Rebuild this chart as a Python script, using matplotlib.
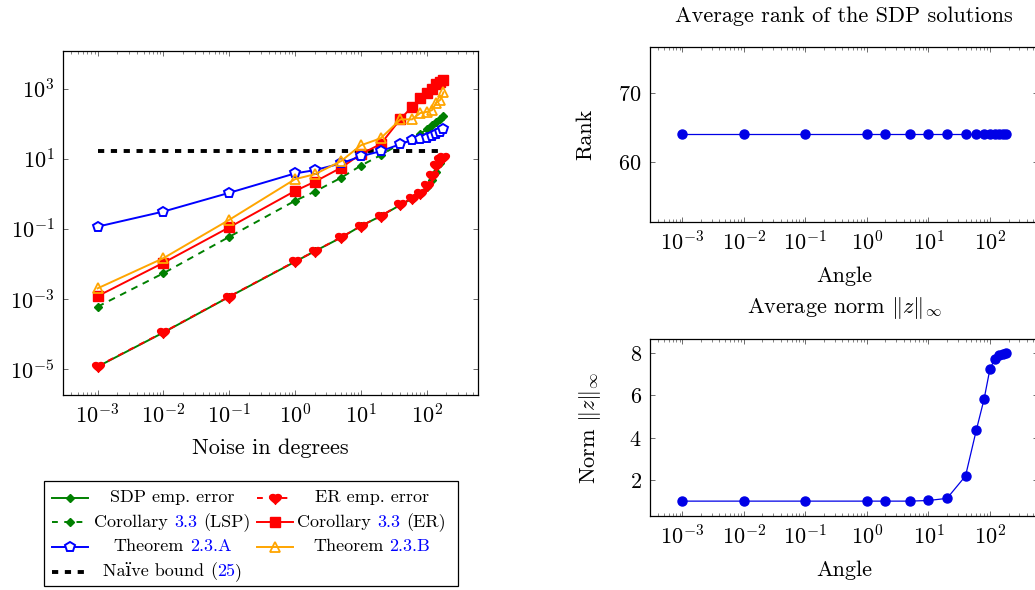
import numpy as np
import matplotlib
matplotlib.use('Agg')
import matplotlib.pyplot as plt
from matplotlib.path import Path
from matplotlib.lines import Line2D
from matplotlib.patches import Rectangle
from matplotlib.offsetbox import TextArea, HPacker, AnnotationBbox
from matplotlib.ticker import (LogLocator, LogFormatterMathtext, NullFormatter,
                               NullLocator, FixedLocator)

# noise levels (degrees) shared by all panels
noise = [1e-3, 1e-2, 1e-1, 1, 2, 5, 10, 20, 40, 60, 80, 100, 120, 140, 160, 180]
decades = [1e-3, 1e-2, 1e-1, 1e0, 1e1, 1e2]

# left panel: errors and bounds
sdp_emp = [1.17e-5, 1.1e-4, 1.15e-3, 0.0115, 0.023, 0.056, 0.12, 0.23, 0.48, 0.72,
           1.0, 1.55, 2.4, 4.2, 7.5, 10.5]
er_emp = [1.2e-5, 1.12e-4, 1.17e-3, 0.0117, 0.023, 0.057, 0.12, 0.23, 0.5, 0.75,
          1.04, 1.8, 3.4, 6.6, 9.6, 11.2]
cor_lsp = [6e-4, 5.4e-3, 0.059, 0.63, 1.15, 2.85, 6.3, 12.6, 27, 38, 52, 68, 91,
           113, 134, 163]
cor_er = [1.2e-3, 0.0107, 0.11, 1.2, 2.2, 5.5, 13.5, 26, 135, 300, 520, 750, 1000,
          1330, 1550, 1800]
thm_a = [0.115, 0.31, 1.06, 3.8, 4.7, 7.3, 11.7, 16.3, 26, 34, 36, 40, 43, 49, 56, 71]
thm_b = [2e-3, 0.0145, 0.18, 2.6, 3.6, 8.5, 24, 38, 132, 132, 200, 215, 240, 390,
         470, 780]
naive = [16.4, 16.4]
naive_x = [1e-3, 180]

# right panels
rank = [64] * 16
norm_inf = [1.0, 1.0, 1.0, 1.0, 1.0, 1.0, 1.03, 1.13, 2.19, 4.37, 5.82, 7.27, 7.72,
            7.92, 7.97, 8.0]

GREEN = '#008000'
RED = '#ff0000'
BLUE = '#0000ff'
ORANGE = '#ffa500'
LINK = '#0000ff'
DOTBLUE = '#0000e6'

plt.rcParams['font.family'] = ['cmr10', 'DejaVu Serif']
plt.rcParams['mathtext.fontset'] = 'cm'
plt.rcParams['axes.unicode_minus'] = False
plt.rcParams['axes.formatter.use_mathtext'] = True
plt.rcParams['font.size'] = 16

# rounded heart-like marker used for "ER emp. error"
_t = np.linspace(0, 2 * np.pi, 60)
_hx = 16 * np.sin(_t) ** 3
_hy = 13 * np.cos(_t) - 4 * np.cos(2 * _t) - 1.5 * np.cos(3 * _t) - 0.5 * np.cos(4 * _t)
HEART = Path(np.column_stack([_hx, _hy]) / 17.0)

W, H = 1035, 590
fig = plt.figure(figsize=(W / 100, H / 100), dpi=100)


def box(x0, y0, x1, y1):
    # pixel box (top-left origin) -> figure fraction rect
    return [x0 / W, (H - y1) / H, (x1 - x0) / W, (y1 - y0) / H]


def style_log_x(ax):
    ax.set_xscale('log')
    ax.set_xlim(10 ** -3.5255, 10 ** 2.78)
    ax.xaxis.set_major_locator(FixedLocator(decades))
    ax.xaxis.set_major_formatter(LogFormatterMathtext())
    ax.xaxis.set_minor_locator(LogLocator(base=10, subs=np.arange(2, 10), numticks=20))
    ax.xaxis.set_minor_formatter(NullFormatter())
    ax.tick_params(which='both', direction='in', top=True, right=True,
                   color='#555555', labelsize=16, pad=6)
    ax.tick_params(which='major', length=3.6, width=0.6)
    ax.tick_params(which='minor', length=2.2, width=0.5)
    for s in ax.spines.values():
        s.set_linewidth(0.9)


# ---------------- left panel ----------------
ax = fig.add_axes(box(63, 51, 478, 395))
style_log_x(ax)
ax.set_yscale('log')
ax.set_ylim(10 ** -5.74, 10 ** 4.07)
ax.yaxis.set_major_locator(FixedLocator([1e-5, 1e-3, 1e-1, 1e1, 1e3]))
ax.yaxis.set_major_formatter(LogFormatterMathtext())
ax.yaxis.set_minor_locator(NullLocator())

ax.plot(naive_x, naive, color='black', lw=2.8, dashes=(1.6, 1.7), zorder=1)
ax.plot(noise, sdp_emp, color=GREEN, lw=1.4, marker='D', ms=4.5, zorder=2)
ax.plot(noise, er_emp, color=RED, lw=1.4, dashes=(3, 3), marker=HEART, ms=8.5, zorder=3)
ax.plot(noise, cor_lsp, color=GREEN, lw=1.4, dashes=(3.5, 3), marker='D', ms=4.5, zorder=2)
ax.plot(noise, cor_er, color=RED, lw=1.4, marker='s', ms=7, zorder=3)
ax.plot(noise, thm_a, color=BLUE, lw=1.4, marker='p', ms=7.5, mfc='white', mew=1.4, zorder=4)
ax.plot(noise, thm_b, color=ORANGE, lw=1.4, marker='^', ms=7.5, mfc='none', mew=1.3, zorder=5)
ax.set_xlabel('Noise in degrees', fontsize=16, labelpad=8)

# ---------------- right panels ----------------
ax_r = fig.add_axes(box(650, 46.7, 1038, 221.7))
style_log_x(ax_r)
ax_r.set_ylim(51.3, 76.7)
ax_r.yaxis.set_major_locator(FixedLocator([60, 70]))
ax_r.plot(noise, rank, color=DOTBLUE, lw=0.9, marker='o', ms=6.5)
ax_r.set_title('Average rank of the SDP solutions', fontsize=16, pad=18)
ax_r.set_xlabel('Angle', fontsize=16, labelpad=9)
ax_r.set_ylabel('Rank', fontsize=16)
ax_r.yaxis.set_label_coords(-0.142, 0.5)

ax_n = fig.add_axes(box(650, 339.3, 1038, 515.7))
style_log_x(ax_n)
ax_n.set_ylim(0.31, 8.66)
ax_n.yaxis.set_major_locator(FixedLocator([2, 4, 6, 8]))
ax_n.plot(noise, norm_inf, color=DOTBLUE, lw=0.9, marker='o', ms=6.5)
ax_n.set_title(r'Average norm $\|z\|_\infty$', fontsize=16, pad=19)
ax_n.set_xlabel('Angle', fontsize=16, labelpad=9)
ax_n.set_ylabel(r'Norm $\|z\|_\infty$', fontsize=16)
ax_n.yaxis.set_label_coords(-0.121, 0.5)

# ---------------- legend (built by hand for the blue references) ----------------
fig.add_artist(Rectangle((44 / W, (H - 586) / H), (458 - 44) / W, (586 - 481) / H,
                         transform=fig.transFigure, fill=False, lw=0.9, color='black'))

LFS = 13
SP = 0.333 * LFS


def txt(s, c='black'):
    return TextArea(s, textprops=dict(color=c, fontsize=LFS))


def put(packer, cx, cy):
    ab = AnnotationBbox(packer, (cx, H - cy), xycoords='figure pixels',
                        frameon=False, box_alignment=(0.5, 0.5), pad=0)
    fig.add_artist(ab)


def handle(x0, cy, **kw):
    x1 = x0 + 36.6
    xs = [x0 / W, (x0 + x1) / 2 / W, x1 / W]
    ys = [(H - cy) / H] * 3
    fig.add_artist(Line2D(xs, ys, transform=fig.transFigure, markevery=[1], **kw))


rows = [497.7, 522.3, 546.7, 571.7]
c1, c2 = 51.7, 256.7
t1, t2 = 172.5, 371.7

handle(c1, rows[0], color=GREEN, lw=1.4, marker='D', ms=4.5)
put(txt('SDP emp. error'), t1, rows[0])
handle(c2, rows[0], color=RED, lw=1.4, dashes=(3, 3.3), marker=HEART, ms=8.5)
put(txt('ER emp. error'), t2, rows[0])

handle(c1, rows[1], color=GREEN, lw=1.4, dashes=(3, 3.3), marker='D', ms=4.5)
put(HPacker(children=[txt('Corollary'), txt('3.3', LINK), txt('(LSP)')], sep=SP, pad=0), t1, rows[1])
handle(c2, rows[1], color=RED, lw=1.4, marker='s', ms=7)
put(HPacker(children=[txt('Corollary'), txt('3.3', LINK), txt('(ER)')], sep=SP, pad=0), t2, rows[1])

handle(c1, rows[2], color=BLUE, lw=1.4, marker='p', ms=7, mfc='white', mew=1.4)
put(HPacker(children=[txt('Theorem'), txt('2.3.A', LINK)], sep=SP, pad=0), t1, rows[2])
handle(c2, rows[2], color=ORANGE, lw=1.4, marker='^', ms=7, mfc='none', mew=1.3)
put(HPacker(children=[txt('Theorem'), txt('2.3.B', LINK)], sep=SP, pad=0), t2, rows[2])

handle(c1, rows[3], color='black', lw=2.8, dashes=(1.6, 1.7))
paren = HPacker(children=[txt('('), txt('25', LINK), txt(')')], sep=0, pad=0)
put(HPacker(children=[txt('Na\u00efve bound'), paren], sep=SP, pad=0), t1, rows[3])

fig.savefig('out.png', dpi=100)
